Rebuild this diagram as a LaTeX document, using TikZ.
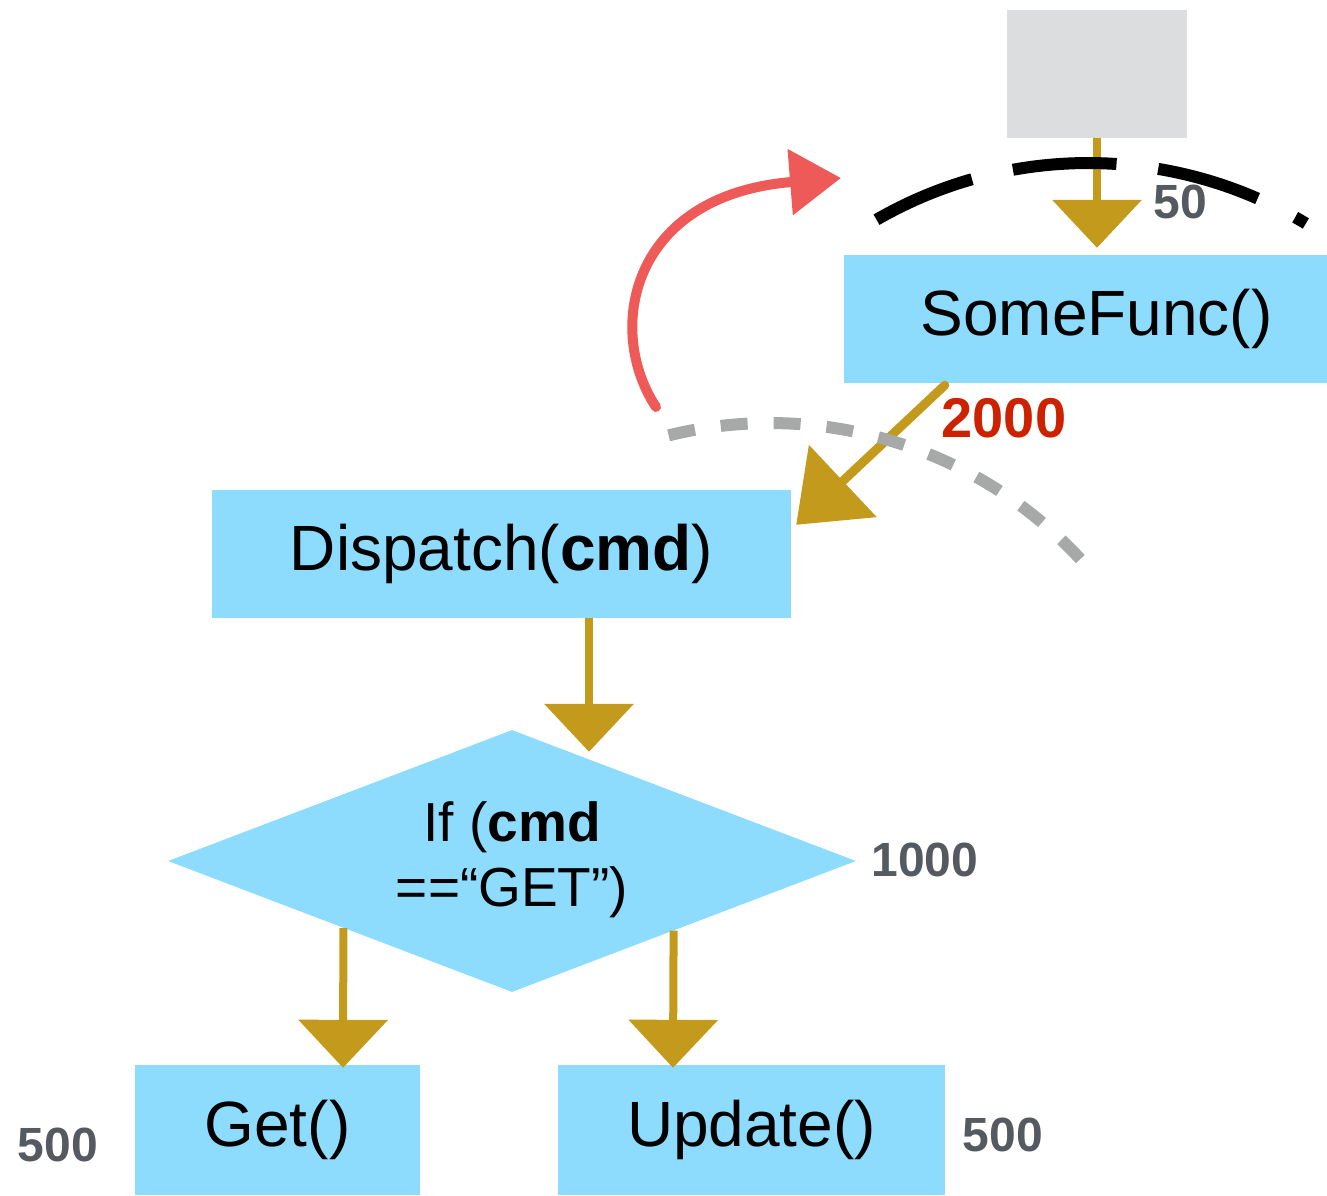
\documentclass[tikz,border=0pt]{standalone}
\usepackage{fontspec}
\setmainfont{Liberation Sans}
\usetikzlibrary{arrows.meta,shapes.geometric}
\definecolor{boxblue}{HTML}{8EDCFD}
\definecolor{gold}{HTML}{C49A1C}
\definecolor{greybox}{HTML}{DCDDDF}
\definecolor{labelgrey}{HTML}{555A60}
\definecolor{dashgrey}{HTML}{A6A9A8}
\definecolor{pencilred}{HTML}{EE5A57}
\definecolor{hotred}{HTML}{CC2200}
\tikzset{
  funcbox/.style={rectangle, fill=boxblue, inner sep=0pt, font=\fontsize{64}{75}\selectfont},
  goldarrow/.style={draw=gold, line width=8pt, -{Triangle[width=88pt,length=48pt]}},
  bigarrow/.style={draw=gold, line width=9pt, line cap=round, -{Triangle[width=97pt,length=64pt]}},
  countlabel/.style={font=\fontsize{48}{50}\selectfont\bfseries, text=labelgrey, inner sep=0pt},
}
\begin{document}
\begin{tikzpicture}[x=1pt,y=-1pt]
\useasboundingbox (0,0) rectangle (1327,1195);
% nodes
\node[rectangle, fill=greybox, minimum width=180pt, minimum height=128pt, inner sep=0pt] (src) at (1097,74) {};
\node[funcbox, minimum width=483pt, minimum height=128pt] (somefunc) at (1085.5,319) {\hspace*{22pt}SomeFunc()};
\node[funcbox, minimum width=579pt, minimum height=128pt] (dispatch) at (501.5,554) {Dispatch(\textbf{cmd})};
\node[diamond, fill=boxblue, minimum width=688pt, minimum height=262pt, inner sep=0pt] (dec) at (512,861) {};
\node[font=\fontsize{55}{65}\selectfont, align=center, inner sep=0pt] (dectext) at (512,860) {If (\textbf{cmd}\\==“GET”)};
\node[funcbox, minimum width=285pt, minimum height=130pt] (get) at (277.5,1130) {Get()};
\node[funcbox, minimum width=387pt, minimum height=130pt] (update) at (751.5,1130) {Update()};
% labels
\node[countlabel] (l50) at (1180,202) {50};
\node[font=\fontsize{56}{58}\selectfont\bfseries, text=hotred, inner sep=0pt] (l2000) at (1004,418) {2000};
\node[countlabel] (l1000) at (925,860) {1000};
\node[countlabel] (l500a) at (58,1145) {500};
\node[countlabel] (l500b) at (1003,1135) {500};
% connectors
\draw[goldarrow] (src.south) -- ([shift={(0,-7)}]src.south |- somefunc.north);
\draw[bigarrow] ([shift={(101,2)}]somefunc.south west) -- ([shift={(5,35)}]dispatch.north east);
\draw[goldarrow] ([shift={(87.5,0)}]dispatch.south) -- ([shift={(77,22)}]dec.north);
\draw[goldarrow] ([shift={(3.5,1.5)}]dec.south west) -- ([shift={(65.5,3)}]get.north);
\draw[goldarrow] ([shift={(-10.5,4)}]dec.south east) -- ([shift={(-78.5,3)}]update.north);
% red hand-drawn arrow
\coordinate (redstart) at (656,407);
\coordinate (redend) at (841,178);
\draw[pencilred, line width=10pt, line cap=round, -{Triangle[width=64pt,length=51pt]}]
  (redstart) .. controls (605,330) and (630,195) .. (redend);
% dashed arcs
\coordinate (blackstart) at (876.5,219.7);
\draw[black, line width=12pt, dash pattern=on 104pt off 42pt] (blackstart) arc[start angle=-120, end angle=-59, radius=423];
\coordinate (greystart) at (668.6,435.4);
\draw[dashgrey, line width=12pt, dash pattern=on 27pt off 26pt] (greystart) arc[start angle=-103.9, end angle=-42.6, radius=422];
\end{tikzpicture}
\end{document}
